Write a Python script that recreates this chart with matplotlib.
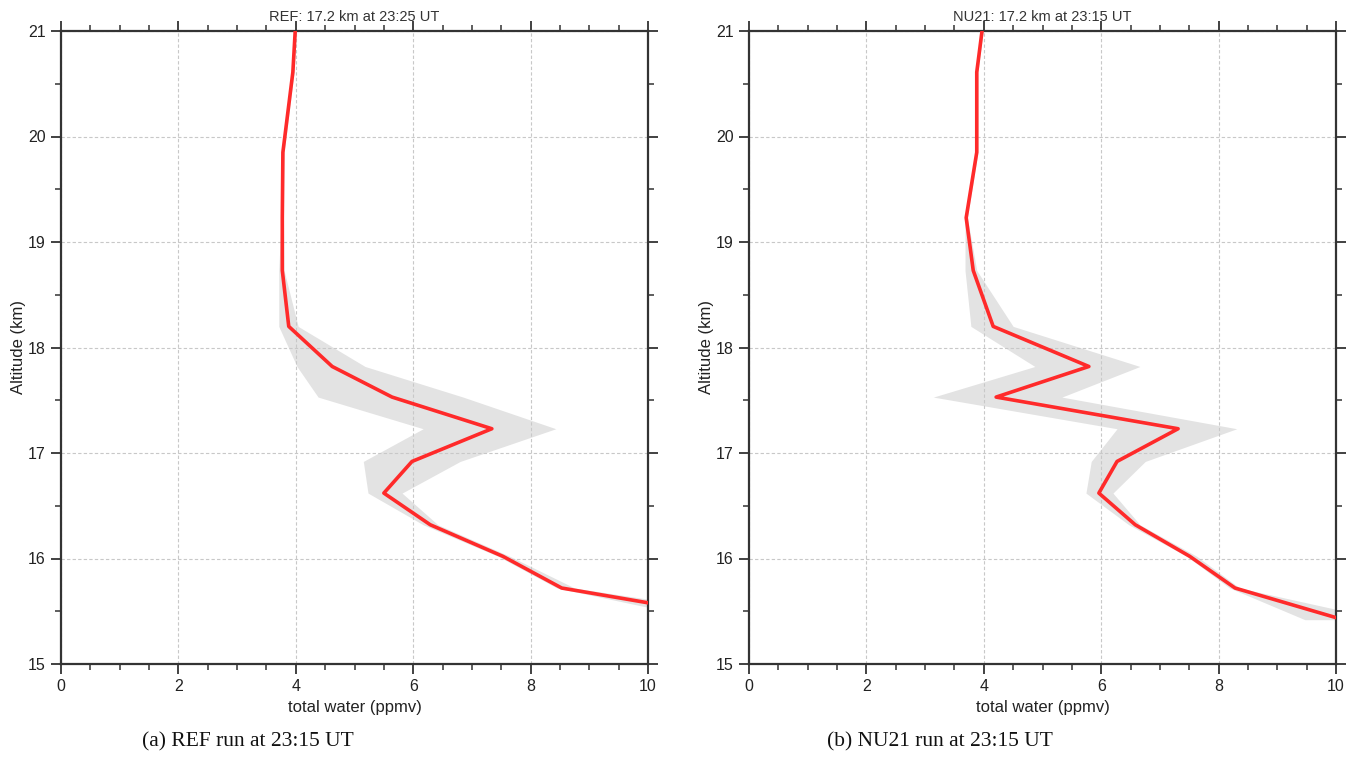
import matplotlib
matplotlib.use("Agg")
import matplotlib.pyplot as plt
from matplotlib.ticker import MultipleLocator

# Altitude levels (km)
altitude = [21.0, 20.61, 19.85, 19.23, 18.73, 18.20, 17.82, 17.53, 17.23,
            16.92, 16.62, 16.32, 16.02, 15.72, 15.42]

# REF run
ref_mean = [3.99, 3.95, 3.78, 3.77, 3.77, 3.88, 4.62, 5.64, 7.34,
            5.98, 5.50, 6.29, 7.53, 8.53, 11.68]
ref_low = [3.97, 3.93, 3.76, 3.75, 3.71, 3.71, 4.02, 4.38, 6.17,
           5.15, 5.23, 6.17, 7.45, 8.45, 11.0]
ref_high = [4.01, 3.97, 3.80, 3.79, 3.80, 4.04, 5.18, 6.85, 8.43,
            6.80, 5.81, 6.42, 7.65, 8.75, 12.3]

# NU21 run
nu_mean = [3.97, 3.88, 3.88, 3.70, 3.82, 4.16, 5.79, 4.21, 7.31,
           6.27, 5.96, 6.58, 7.51, 8.28, 10.12]
nu_low = [3.95, 3.86, 3.86, 3.68, 3.68, 3.78, 4.87, 3.14, 6.27,
          5.83, 5.74, 6.47, 7.46, 8.19, 9.47]
nu_high = [3.99, 3.90, 3.90, 3.72, 3.88, 4.50, 6.66, 5.33, 8.31,
           6.75, 6.20, 6.66, 7.63, 8.36, 10.8]

titles = ["REF: 17.2 km at 23:25 UT", "NU21: 17.2 km at 23:15 UT"]
captions = ["(a) REF run at 23:15 UT", "(b) NU21 run at 23:15 UT"]
xlabel = "total water (ppmv)"
ylabel = "Altitude (km)"

plt.rcParams['font.family'] = ['Liberation Sans', 'DejaVu Sans']

fig = plt.figure(figsize=(13.55, 7.74), dpi=100)
W, H = 1355, 774
axes_px = [(61, 648), (749, 1336)]
top_px, bot_px = 31, 664

spine_col = "#333333"
series = [(ref_mean, ref_low, ref_high), (nu_mean, nu_low, nu_high)]
caption_x = [248, 940]

for i, (x0, x1) in enumerate(axes_px):
    ax = fig.add_axes([x0 / W, 1 - bot_px / H, (x1 - x0) / W, (bot_px - top_px) / H])
    mean, low, high = series[i]
    ax.fill_betweenx(altitude, low, high, color="#e3e3e3", lw=0, zorder=1)
    ax.plot(mean, altitude, color="#ff2a2a", lw=2.6, zorder=3)
    ax.set_xlim(0, 10)
    ax.set_ylim(15, 21)
    ax.xaxis.set_major_locator(MultipleLocator(2))
    ax.xaxis.set_minor_locator(MultipleLocator(0.5))
    ax.yaxis.set_major_locator(MultipleLocator(1))
    ax.yaxis.set_minor_locator(MultipleLocator(0.5))
    ax.grid(True, which="major", color="#c8c8c8", ls=(0, (3, 2)), lw=0.8, zorder=0)
    ax.tick_params(which="both", direction="out", top=True, right=True,
                   colors=spine_col, labelcolor="#222222", labelsize=11.5)
    ax.tick_params(which="major", length=7, width=1.3, pad=4)
    ax.tick_params(which="minor", length=4.5, width=1.1)
    for s in ax.spines.values():
        s.set_color(spine_col)
        s.set_linewidth(1.6)
    ax.set_xlabel(xlabel, fontsize=12, color="#222222", labelpad=4)
    ax.set_ylabel(ylabel, fontsize=12, color="#222222", labelpad=1)
    ax.set_title(titles[i], fontsize=10.5, color="#333333", pad=7)
    fig.text(caption_x[i] / W, 1 - 742 / H, captions[i], ha="center", va="center",
             fontsize=15.5, family="Liberation Serif", color="#111111")

fig.savefig("out.png", dpi=100)
